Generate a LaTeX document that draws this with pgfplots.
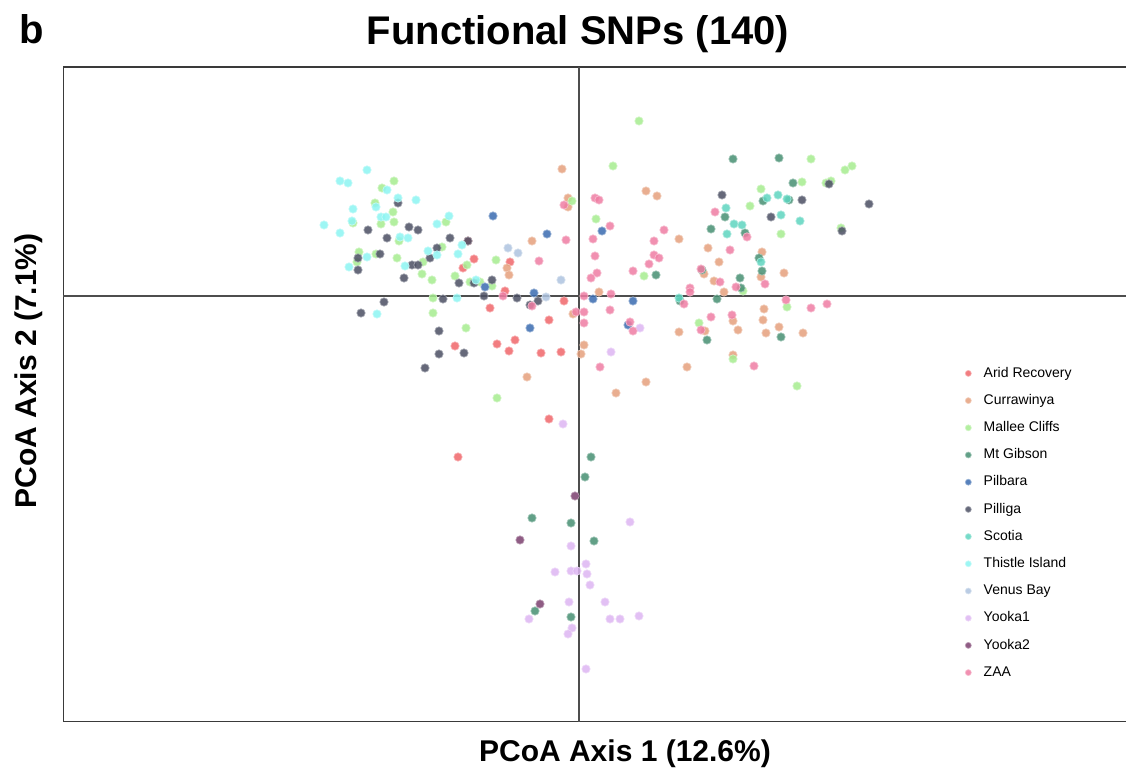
\documentclass[border=0pt]{standalone}
\usepackage{fontspec}
\setmainfont{Liberation Sans}
\usepackage{pgfplots}
\pgfplotsset{compat=1.18}

\definecolor{arid}{HTML}{F0666A}
\definecolor{curr}{HTML}{E5A07C}
\definecolor{mallee}{HTML}{A6EC8F}
\definecolor{gibson}{HTML}{468F72}
\definecolor{pilbara}{HTML}{3A6BB0}
\definecolor{pilliga}{HTML}{4B4F63}
\definecolor{scotia}{HTML}{5ED5BF}
\definecolor{thistle}{HTML}{8CF5F2}
\definecolor{venus}{HTML}{AEC3DF}
\definecolor{yookaone}{HTML}{DDB5F2}
\definecolor{yookatwo}{HTML}{7B3F6E}
\definecolor{zaa}{HTML}{EF7DA3}
\definecolor{frame}{HTML}{3A3A3A}

\pgfplotsset{
  pop/.style={only marks, mark=*, color=#1, mark size=2.1pt,
    mark options={fill=#1, fill opacity=0.85, draw=#1!50!white, draw opacity=0.9, line width=0.35pt}},
}

\begin{document}
\begin{tikzpicture}
\useasboundingbox (0,0) rectangle (563pt,384.5pt);
\begin{axis}[
  at={(31.5pt,23.5pt)}, anchor=south west,
  scale only axis, width=531.5pt, height=327.5pt,
  xmin=-516, xmax=547, ymin=-426, ymax=229,
  ticks=none, axis line style={draw=none},
  legend style={at={(0.8481,0.5476)}, anchor=north west, draw=none, fill=none,
    inner sep=0pt, row sep=3.9pt,
    font=\fontsize{7pt}{8pt}\selectfont,
    nodes={inner sep=1.5pt, text height=5.2pt, text depth=1.5pt}},
  legend cell align=left,
  legend image code/.code={\path (-1.5pt,0pt) (6pt,0pt);
    \draw[#1,mark size=1.5pt] plot coordinates {(0pt,0pt)};},
]
% frame open on the right, plus the two zero lines
\draw[frame, line width=0.75pt] (rel axis cs:1,0) -- (rel axis cs:0,0) -- (rel axis cs:0,1) -- (rel axis cs:1,1);
\draw[frame!90, line width=1pt] (axis cs:0,-426) -- (axis cs:0,229);
\draw[frame!90, line width=1pt] (axis cs:-516,0) -- (axis cs:547,0);

\addplot[pop=arid] coordinates {
(-105,37) (-116,28) (-89,-12) (-74,5) (-69,34) (-15,-5) (-30,-24) (-64,-44)
(-82,-48) (-124,-50) (-70,-55) (-38,-57) (-18,-56) (-30,-123) (-121,-161) (-111,55)};
\addlegendentry{Arid Recovery}

\addplot[pop=curr] coordinates {
(-72,28) (-70,21) (-47,55) (-17,127) (-11,98) (-11,89) (67,105) (78,100)
(100,57) (129,48) (140,34) (125,22) (135,15) (20,4) (145,4) (-6,-18)
(5,-49) (2,-58) (-52,-81) (37,-97) (183,44) (205,23) (182,19) (185,-13)
(154,-25) (184,-24) (126,-35) (159,-34) (100,-36) (187,-37) (200,-31) (224,-37)
(154,-59) (108,-71) (67,-86)};
\addlegendentry{Currawinya}

\addplot[pop=mallee] coordinates {
(-197,108) (-185,115) (-204,93) (-186,84) (-226,73) (-198,72) (-185,74) (-180,55)
(-220,44) (-222,34) (-203,42) (-182,38) (-157,22) (-147,16) (-156,34) (-137,49)
(-133,74) (-124,20) (-109,14) (-99,14) (-83,36) (-87,10) (-146,-2) (-146,-17)
(-112,31) (-113,-32) (-82,-102) (-7,95) (60,175) (34,130) (17,77) (65,20)
(232,137) (273,130) (266,126) (223,114) (247,113) (252,115) (182,107) (171,90)
(202,62) (262,68) (164,5) (208,-11) (120,-27) (154,-63) (218,-90)};
\addlegendentry{Mallee Cliffs}

\addplot[pop=gibson] coordinates {
(154,137) (200,138) (214,113) (184,95) (210,96) (146,79) (132,67) (166,63)
(180,38) (183,25) (161,18) (123,26) (162,8) (101,-5) (138,-3) (77,21)
(202,-41) (128,-44) (12,-161) (6,-181) (-47,-222) (-8,-227) (15,-245) (-44,-315)
(-8,-321)};
\addlegendentry{Mt Gibson}

\addplot[pop=pilbara] coordinates {
(-86,80) (-94,9) (-32,62) (23,65) (-45,3) (14,-3) (54,-5) (49,-29) (-49,-32)};
\addlegendentry{Pilbara}

\addplot[pop=pilliga] coordinates {
(-181,93) (-211,66) (-192,58) (-170,69) (-161,66) (-129,58) (-142,48) (-199,42)
(-221,38) (-221,26) (-167,31) (-161,31) (-149,38) (-175,18) (-120,13) (-105,13)
(-87,16) (-95,0) (-136,-3) (-195,-6) (-218,-17) (-111,55) (-62,-2) (-41,-5)
(-49,-9) (-140,-35) (-115,-57) (-140,-58) (-154,-72) (143,101) (250,112) (223,96)
(290,92) (192,79) (263,65)};
\addlegendentry{Pilliga}

\addplot[pop=scotia] coordinates {
(147,88) (155,72) (148,62) (163,71) (188,98) (199,101) (208,97) (202,81)
(221,75) (182,34) (100,-2)};
\addlegendentry{Scotia}

\addplot[pop=thistle] coordinates {
(-212,126) (-239,115) (-231,113) (-192,106) (-226,87) (-227,75) (-255,71) (-239,63)
(-203,89) (-181,98) (-163,96) (-198,79) (-193,79) (-130,80) (-142,72) (-179,59)
(-171,58) (-212,39) (-230,29) (-174,30) (-151,45) (-142,41) (-117,51) (-121,42)
(-103,16) (-122,-2) (-202,-18)};
\addlegendentry{Thistle Island}

\addplot[pop=venus] coordinates {
(-71,48) (-61,43) (-18,16) (-33,-1)};
\addlegendentry{Venus Bay}

\addplot[pop=yookaone] coordinates {
(32,-56) (61,-32) (-16,-128) (51,-226) (-8,-250) (7,-268) (-24,-276) (-8,-275)
(-2,-275) (8,-278) (11,-289) (-10,-306) (26,-306) (-50,-323) (31,-323) (41,-323)
(60,-320) (-7,-332) (-11,-338) (7,-373)};
\addlegendentry{Yooka1}

\addplot[pop=yookatwo] coordinates {
(-4,-200) (-59,-244) (-39,-308)};
\addlegendentry{Yooka2}

\addplot[pop=zaa] coordinates {
(-15,91) (16,98) (20,96) (136,84) (31,70) (-13,56) (14,57) (85,66)
(75,55) (151,46) (16,40) (75,41) (80,38) (70,32) (-40,35) (54,25)
(18,23) (12,18) (122,27) (141,14) (157,9) (168,59) (32,2) (111,8)
(111,4) (5,0) (-76,0) (105,-8) (-3,-16) (5,-16) (31,-14) (5,-27)
(51,-26) (54,-35) (122,-34) (21,-71) (186,12) (207,-4) (232,-12) (248,-8)
(153,-19) (132,-21) (175,-70) (-47,-10)};
\addlegendentry{ZAA}
\end{axis}

\node[anchor=base west, font=\fontsize{20pt}{24pt}\selectfont\bfseries] at (6pt,362.5pt) {b};
\node[anchor=base, font=\fontsize{20pt}{24pt}\selectfont\bfseries] at (289pt,362pt) {Functional SNPs (140)};
\node[anchor=base, font=\fontsize{15pt}{18pt}\selectfont\bfseries] at (312.5pt,3.5pt) {PCoA Axis 1 (12.6\%)};
\node[anchor=base, rotate=90, font=\fontsize{15pt}{18pt}\selectfont\bfseries] at (18pt,199pt) {PCoA Axis 2 (7.1\%)};
\end{tikzpicture}
\end{document}
